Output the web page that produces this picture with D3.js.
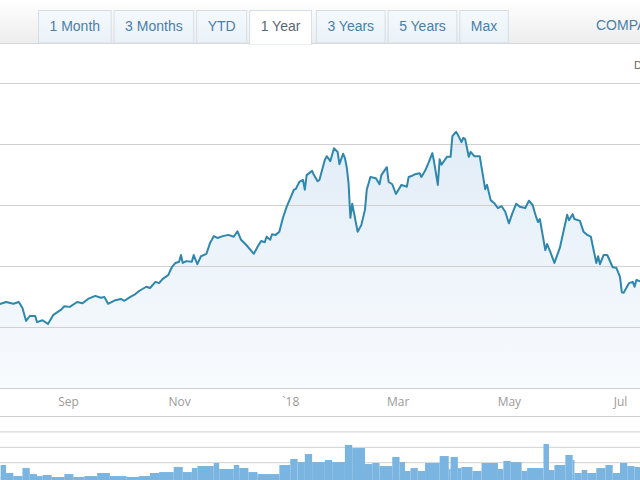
<!DOCTYPE html>
<html><head><meta charset="utf-8">
<script src="https://cdn.jsdelivr.net/npm/d3@7"></script>
<style>body{margin:0;background:#fff;overflow:hidden} svg{display:block}</style>
</head><body>
<svg id="chart" width="640" height="480"></svg>
<script>
// ---------------- data ----------------
const rangeTabs = ["1 Month", "3 Months", "YTD", "1 Year", "3 Years", "5 Years", "Max"];
const activeTab = "1 Year";
const compareLabel = "COMPARE";
const cornerLabel = "D";

const xTickDates = ["2017-09-01", "2017-11-01", "2018-01-01", "2018-03-01", "2018-05-01", "2018-07-01"];
const xTickLabels = ["Sep", "Nov", "`18", "Mar", "May", "Jul"];
const priceTicks = [60, 70, 80, 90, 100, 110];
const volumeTicks = [1, 2, 3, 4, 5];

const priceDates = [
"2017-07-22","2017-07-26","2017-07-29","2017-08-02","2017-08-05","2017-08-07","2017-08-09","2017-08-11","2017-08-14","2017-08-15",
"2017-08-18","2017-08-21","2017-08-24","2017-08-28","2017-08-30","2017-09-02","2017-09-06","2017-09-09","2017-09-12","2017-09-16",
"2017-09-19","2017-09-21","2017-09-23","2017-09-27","2017-09-30","2017-10-02","2017-10-05","2017-10-08","2017-10-10","2017-10-14",
"2017-10-16","2017-10-19","2017-10-21","2017-10-23","2017-10-26","2017-10-28","2017-10-30","2017-11-01","2017-11-02","2017-11-03",
"2017-11-05","2017-11-08","2017-11-09","2017-11-11","2017-11-13","2017-11-16","2017-11-18","2017-11-19","2017-11-20","2017-11-22",
"2017-11-25","2017-11-28","2017-12-01","2017-12-03","2017-12-05","2017-12-08","2017-12-12","2017-12-14","2017-12-16","2017-12-18",
"2017-12-19","2017-12-21","2017-12-22","2017-12-24","2017-12-26","2017-12-28","2017-12-30","2018-01-01","2018-01-03","2018-01-04",
"2018-01-06","2018-01-08","2018-01-09","2018-01-10","2018-01-13","2018-01-14","2018-01-16","2018-01-17","2018-01-20","2018-01-21",
"2018-01-23","2018-01-25","2018-01-27","2018-01-28","2018-01-30","2018-01-31","2018-02-01","2018-02-02","2018-02-03","2018-02-04",
"2018-02-05","2018-02-07","2018-02-09","2018-02-11","2018-02-12","2018-02-14","2018-02-17","2018-02-19","2018-02-20","2018-02-23",
"2018-02-24","2018-02-26","2018-02-28","2018-03-02","2018-03-03","2018-03-06","2018-03-07","2018-03-09","2018-03-11","2018-03-13",
"2018-03-14","2018-03-16","2018-03-18","2018-03-20","2018-03-21","2018-03-23","2018-03-24","2018-03-25","2018-03-28","2018-03-30",
"2018-03-31","2018-04-02","2018-04-03","2018-04-05","2018-04-06","2018-04-07","2018-04-09","2018-04-10","2018-04-12","2018-04-15",
"2018-04-16","2018-04-18","2018-04-19","2018-04-21","2018-04-23","2018-04-25","2018-04-27","2018-04-29","2018-05-01","2018-05-03",
"2018-05-05","2018-05-07","2018-05-10","2018-05-12","2018-05-14","2018-05-16","2018-05-17","2018-05-18","2018-05-21","2018-05-22",
"2018-05-24","2018-05-26","2018-05-29","2018-06-02","2018-06-03","2018-06-05","2018-06-06","2018-06-09","2018-06-11","2018-06-13",
"2018-06-15","2018-06-18","2018-06-19","2018-06-20","2018-06-22","2018-06-24","2018-06-27","2018-06-29","2018-07-01","2018-07-02",
"2018-07-03","2018-07-06","2018-07-08","2018-07-09","2018-07-10","2018-07-12"
];
const prices = [
73.6,73.8,74.1,73.8,74.1,73.1,71.0,71.8,71.8,70.8,
71.1,70.5,72.0,72.8,73.4,73.3,74.1,73.9,74.6,75.1,
74.8,74.9,73.8,74.4,74.6,74.3,74.9,75.4,75.9,76.6,
76.4,77.4,77.2,77.9,78.5,79.8,80.5,80.7,81.8,80.5,
80.8,80.7,81.8,80.3,81.6,82.0,83.8,84.3,84.9,84.6,
84.9,85.1,84.8,85.7,84.3,83.4,82.0,83.1,84.1,83.9,
84.8,84.3,85.2,85.1,85.6,87.9,89.7,91.1,92.5,92.6,
93.8,94.1,92.5,94.9,95.6,94.9,93.9,94.1,97.4,98.0,
97.2,99.3,98.7,96.7,98.4,97.7,96.2,93.6,87.9,90.2,
88.7,85.6,86.7,89.2,92.5,94.6,94.4,93.4,94.9,96.2,
93.8,93.4,91.8,92.8,93.3,93.0,94.6,94.8,95.1,95.2,
94.6,95.6,97.0,98.5,97.0,93.3,97.5,96.6,97.9,97.9,
101.3,102.0,101.5,100.3,101.0,100.8,97.9,98.7,98.0,98.0,
96.2,92.6,93.3,90.8,90.3,89.5,89.8,88.9,87.0,88.7,
90.2,89.7,89.5,90.7,90.0,88.0,87.2,87.7,82.6,83.6,
82.1,80.5,83.0,88.4,87.5,88.5,87.7,87.4,85.6,85.1,
84.8,80.5,81.6,80.3,81.8,81.8,79.8,79.7,78.2,75.7,
75.6,77.2,77.4,76.6,77.7,77.5
];

const volumeDates = [
"2017-07-26","2017-07-29","2017-08-02","2017-08-07","2017-08-11","2017-08-15","2017-08-18","2017-08-23","2017-08-30","2017-09-04",
"2017-09-10","2017-09-17","2017-09-24","2017-10-03","2017-10-10","2017-10-16","2017-10-21","2017-10-29","2017-11-03","2017-11-08",
"2017-11-11","2017-11-20","2017-11-23","2017-12-01","2017-12-04","2017-12-09","2017-12-14","2017-12-26","2018-01-01","2018-01-05",
"2018-01-09","2018-01-13","2018-01-20","2018-01-24","2018-01-31","2018-02-04","2018-02-11","2018-02-15","2018-02-19","2018-02-26",
"2018-03-02","2018-03-05","2018-03-08","2018-03-12","2018-03-16","2018-03-24","2018-03-29","2018-03-30","2018-04-03","2018-04-05",
"2018-04-11","2018-04-16","2018-04-25","2018-04-28","2018-05-02","2018-05-08","2018-05-11","2018-05-20","2018-05-23","2018-05-26",
"2018-06-01","2018-06-05","2018-06-06","2018-06-10","2018-06-13","2018-06-18","2018-06-23","2018-06-27","2018-07-01","2018-07-05",
"2018-07-09"
];
const volumes = [
1.82,1.30,1.10,1.62,1.23,1.10,1.17,1.04,1.23,1.04,
1.10,1.30,1.10,1.04,1.10,1.30,1.36,1.69,1.36,1.62,
1.75,1.95,1.56,1.82,1.62,1.36,1.23,1.82,2.21,2.01,
2.53,2.01,2.14,2.01,3.12,2.92,1.88,1.95,1.75,2.34,
2.01,1.43,1.62,1.43,1.95,2.40,1.56,2.34,1.62,1.69,
1.43,1.95,1.56,2.08,2.01,1.43,1.62,3.18,1.49,1.82,
2.47,2.14,1.30,1.49,1.30,1.62,1.82,1.30,1.95,1.75,
1.69
];
const volumeEndDate = "2018-07-13";

// ---------------- drawing ----------------
const parse = d3.timeParse("%Y-%m-%d");
const svg = d3.select("#chart");
const W = 640, H = 480;

const x = d3.scaleTime()
  .domain([parse("2017-09-01"), parse("2018-07-01")])
  .range([68, 620]);
const y = d3.scaleLinear().domain([60, 110]).range([388, 83]);
const yv = d3.scaleLinear().domain([0, 5]).range([493, 416]);

const defs = svg.append("defs");
const hg = defs.append("linearGradient").attr("id", "hdr").attr("x1", 0).attr("y1", 0).attr("x2", 0).attr("y2", 1);
hg.append("stop").attr("offset", "0%").attr("stop-color", "#ffffff");
hg.append("stop").attr("offset", "100%").attr("stop-color", "#ededed");
const tg = defs.append("linearGradient").attr("id", "tab").attr("x1", 0).attr("y1", 0).attr("x2", 0).attr("y2", 1);
tg.append("stop").attr("offset", "0%").attr("stop-color", "#f5f9fc");
tg.append("stop").attr("offset", "100%").attr("stop-color", "#e9f2f8");
const ag = defs.append("linearGradient").attr("id", "area").attr("gradientUnits", "userSpaceOnUse")
  .attr("x1", 0).attr("y1", 130).attr("x2", 0).attr("y2", 388);
ag.append("stop").attr("offset", "0%").attr("stop-color", "rgb(120,170,220)").attr("stop-opacity", 0.22);
ag.append("stop").attr("offset", "100%").attr("stop-color", "rgb(120,170,220)").attr("stop-opacity", 0.05);

svg.append("rect").attr("width", W).attr("height", H).attr("fill", "#fff");

// header band
svg.append("rect").attr("x", 0).attr("y", 0).attr("width", W).attr("height", 43).attr("fill", "url(#hdr)");
svg.append("line").attr("x1", 0).attr("x2", W).attr("y1", 43.5).attr("y2", 43.5).attr("stroke", "#d6d6d6");

// tabs
const tabG = svg.append("g").attr("font-family", "'Liberation Sans', Arial, sans-serif").attr("font-size", 14);
let tx = 38;
rangeTabs.forEach(label => {
  const g = tabG.append("g");
  const t = g.append("text").attr("y", 31).text(label)
    .attr("fill", label === activeTab ? "#56687a" : "#4a7fa8");
  const tw = t.node().getComputedTextLength();
  const w = tw + 22;
  const active = label === activeTab;
  g.insert("rect", "text").attr("x", tx + 0.5).attr("y", 10.5).attr("width", w).attr("height", active ? 34 : 32.5)
    .attr("fill", active ? "#ffffff" : "url(#tab)").attr("stroke", "#d5dee6");
  if (active) {
    g.insert("line", "text").attr("x1", tx + 1).attr("x2", tx + w).attr("y1", 43.5).attr("y2", 43.5).attr("stroke", "#fff").attr("stroke-width", 2);
  }
  t.attr("x", tx + 0.5 + w / 2).attr("text-anchor", "middle");
  tx += w + (active ? 5 : 3);
});
svg.append("text").attr("x", 596).attr("y", 30).attr("font-family", "'Liberation Sans', Arial, sans-serif")
  .attr("font-size", 14).attr("fill", "#4a7fa8").text(compareLabel);
svg.append("text").attr("x", 634).attr("y", 69).attr("font-family", "'Liberation Sans', Arial, sans-serif")
  .attr("font-size", 11).attr("fill", "#666").text(cornerLabel);

// price series
const pdata = priceDates.map((d, i) => ({ date: parse(d), value: prices[i] }));
const area = d3.area().x(d => x(d.date)).y0(388).y1(d => y(d.value));
svg.append("path").datum(pdata).attr("d", area).attr("fill", "url(#area)");

// price gridlines
const grid = svg.append("g").call(d3.axisRight(y).tickValues(priceTicks).tickSize(W).tickFormat(""));
grid.select(".domain").remove();
grid.selectAll(".tick line").attr("stroke", "#d0d0d0");

const line = d3.line().x(d => x(d.date)).y(d => y(d.value));
svg.append("path").datum(pdata).attr("d", line).attr("fill", "none")
  .attr("stroke", "#2e87ad").attr("stroke-width", 2).attr("stroke-linejoin", "round");

// x axis labels
const xa = svg.append("g").attr("transform", "translate(0,388)")
  .call(d3.axisBottom(x).tickValues(xTickDates.map(parse)).tickSize(0).tickPadding(9.5)
    .tickFormat((d, i) => xTickLabels[i]));
xa.select(".domain").remove();
xa.selectAll("text").attr("font-family", "'Open Sans', sans-serif").attr("font-size", 12).attr("fill", "#9a9a9a");

// volume gridlines
const vgrid = svg.append("g").call(d3.axisRight(yv).tickValues(volumeTicks).tickSize(W).tickFormat(""));
vgrid.select(".domain").remove();
vgrid.selectAll(".tick line").attr("stroke", "#d0d0d0");

// volume bars
const vEdges = volumeDates.concat([volumeEndDate]).map(parse);
svg.append("g").selectAll("rect").data(volumes).join("rect")
  .attr("x", (v, i) => x(vEdges[i]))
  .attr("width", (v, i) => Math.max(0, x(vEdges[i + 1]) - x(vEdges[i])))
  .attr("y", v => yv(v))
  .attr("height", v => yv(0) - yv(v))
  .attr("fill", "#7ab4e0");
</script>
</body></html>
